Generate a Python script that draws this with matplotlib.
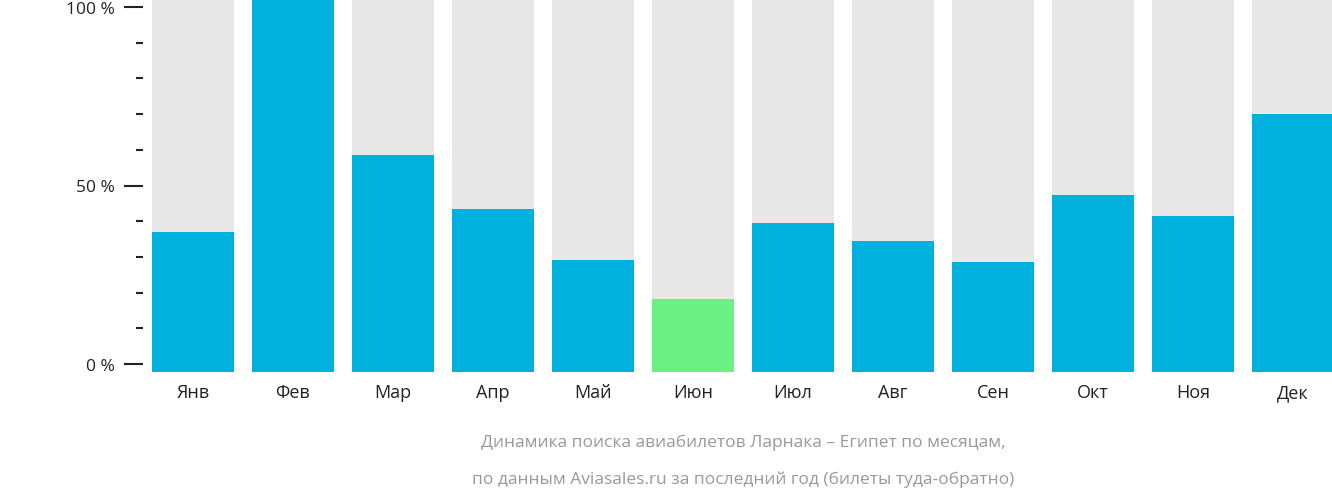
import matplotlib
matplotlib.use("Agg")
import matplotlib.pyplot as plt
import numpy as np

months = ["Янв","Фев","Мар","Апр","Май","Июн","Июл","Авг","Сен","Окт","Ноя","Дек"]
values = [37.5, 100, 58.2, 43.7, 30.0, 19.7, 40.0, 35.1, 29.5, 47.5, 41.8, 69.2]
highlight = "Июн"
tick_labels = ["0 %", "50 %", "100 %"]

fig = plt.figure(figsize=(13.32, 5.02), dpi=100)
ax = fig.add_axes([143/1332, 129/502, 1200/1332, 373/502])
x = np.arange(len(months))
ax.bar(x, [100]*len(months), width=0.82, color="#e8e8e8")
cols = ["#6bf083" if m == highlight else "#00b0dd" for m in months]
ax.bar(x, values, width=0.82, color=cols)
ax.set_xlim(-0.5, 11.5)
ax.set_ylim(0, 100)
off, sc = 2.1, 0.958
ax.set_yticks([off + v*sc for v in (0, 50, 100)])
ax.set_yticklabels(tick_labels, fontsize=12.5, fontfamily="Open Sans", color="#222")
ax.set_yticks([off + v*sc for v in range(10, 100, 10) if v != 50], minor=True)
ax.tick_params(axis="y", which="major", length=14, width=1.5, pad=6, color="#222")
ax.tick_params(axis="y", which="minor", length=5, width=1.5, color="#222")
ax.set_xticks(x)
ax.set_xticklabels(months, fontsize=13, fontfamily="Open Sans", color="#222")
ax.tick_params(axis="x", length=0, pad=8)
for s in ax.spines.values():
    s.set_visible(False)
fig.text(743/1332, 1-443/502, "Динамика поиска авиабилетов Ларнака – Египет по месяцам,",
         ha="center", va="center", fontsize=12.5, color="#999", fontfamily="Open Sans")
fig.text(743/1332, 1-480/502, "по данным Aviasales.ru за последний год (билеты туда-обратно)",
         ha="center", va="center", fontsize=12.5, color="#999", fontfamily="Open Sans")
fig.savefig("out.png", dpi=100)
